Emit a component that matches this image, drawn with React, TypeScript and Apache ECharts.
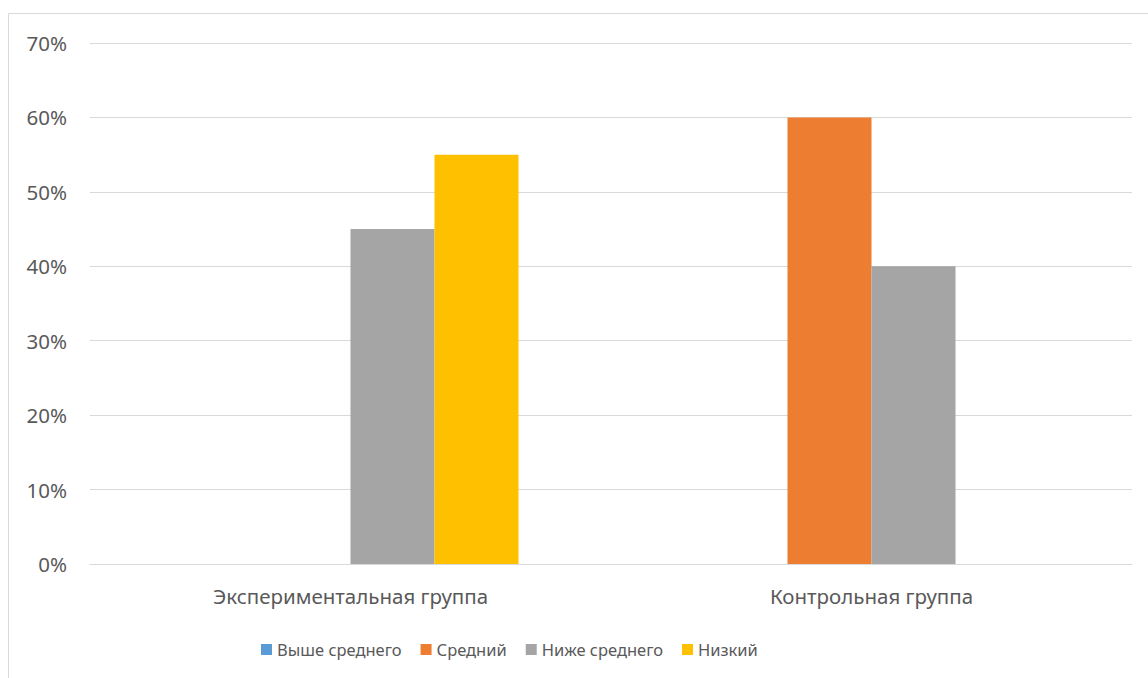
import React, { useEffect, useRef } from "react";
import * as echarts from "echarts";

const categories = ["Экспериментальная группа", "Контрольная группа"];
const seriesNames = ["Выше среднего", "Средний", "Ниже среднего", "Низкий"];
const aboveAverage = [0, 0];
const average = [0, 60];
const belowAverage = [45, 40];
const low = [55, 0];
const colors = ["#5B9BD5", "#ED7D31", "#A5A5A5", "#FFC000"];
const yTicks = [0, 10, 20, 30, 40, 50, 60, 70];

export default function App() {
  const ref = useRef<HTMLDivElement>(null);
  useEffect(() => {
    if (!ref.current) return;
    const chart = echarts.init(ref.current, null, { renderer: "svg" });
    const values = [aboveAverage, average, belowAverage, low];
    const font = "'Noto Sans', 'Open Sans', sans-serif";
    chart.setOption({
      animation: false,
      textStyle: { fontFamily: font },
      graphic: [
        {
          type: "rect",
          shape: { x: 8.5, y: 13.5, width: 1200, height: 700 },
          style: { fill: "none", stroke: "#d9d9d9", lineWidth: 1 },
          silent: true,
        },
      ],
      grid: { left: 90, right: 16, top: 43, bottom: 114, containLabel: false },
      legend: {
        top: 636,
        left: 256,
        itemWidth: 11,
        itemHeight: 11,
        itemGap: 19,
        icon: "rect",
        textStyle: { color: "#595959", fontSize: 16.5, fontFamily: font },
        data: seriesNames,
      },
      xAxis: {
        type: "category",
        data: categories,
        axisLine: { lineStyle: { color: "#d9d9d9" } },
        axisTick: { show: false },
        axisLabel: { color: "#595959", fontSize: 20.5, margin: 21, fontFamily: font },
      },
      yAxis: {
        type: "value",
        min: 0,
        max: 70,
        interval: 10,
        axisLine: { show: false },
        axisTick: { show: false },
        splitLine: { lineStyle: { color: "#d9d9d9", width: 1 } },
        axisLabel: {
          color: "#595959",
          fontSize: 20.5,
          margin: 23,
          fontFamily: font,
          formatter: (v: number) => (yTicks.includes(v) ? v + "%" : ""),
        },
      },
      series: seriesNames.map((name, i) => ({
        name,
        type: "bar",
        data: values[i],
        itemStyle: { color: colors[i] },
        barGap: "0%",
        barCategoryGap: "35.5%",
      })),
    });
    return () => chart.dispose();
  }, []);
  return (
    <div
      ref={ref}
      style={{ position: "fixed", left: 0, top: 0, width: 1148, height: 678, background: "#fff" }}
    />
  );
}
